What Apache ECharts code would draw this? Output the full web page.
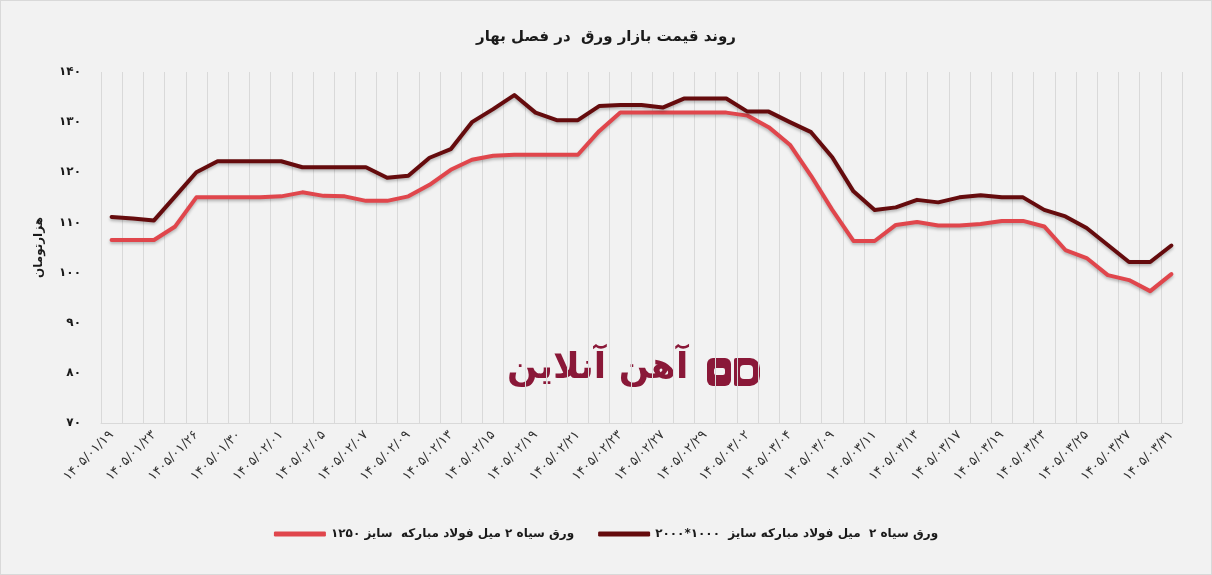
<!DOCTYPE html>
<html>
<head>
<meta charset="utf-8">
<title>روند قیمت بازار ورق</title>
<script src="https://cdn.jsdelivr.net/npm/echarts@6.0.0/dist/echarts.min.js"></script>
<style>
  html, body { margin: 0; padding: 0; background: #fff; }
  #steelChart {
    width: 1210px;
    height: 573px;
    border: 1px solid #d9d9d9;
    background: #f2f2f2;
  }
</style>
</head>
<body>
<div id="steelChart"></div>
<script>
// تاریخ ها (محور افقی)
var dates = [
  '1405/01/19', '1405/01/22', '1405/01/23', '1405/01/24', '1405/01/26', '1405/01/29',
  '1405/01/30', '1405/01/31', '1405/02/01', '1405/02/02', '1405/02/05', '1405/02/06',
  '1405/02/07', '1405/02/08', '1405/02/09', '1405/02/12', '1405/02/13', '1405/02/14',
  '1405/02/15', '1405/02/16', '1405/02/19', '1405/02/20', '1405/02/21', '1405/02/22',
  '1405/02/23', '1405/02/26', '1405/02/27', '1405/02/28', '1405/02/29', '1405/02/30',
  '1405/03/02', '1405/03/03', '1405/03/04', '1405/03/05', '1405/03/09', '1405/03/10',
  '1405/03/11', '1405/03/12', '1405/03/13', '1405/03/16', '1405/03/17', '1405/03/18',
  '1405/03/19', '1405/03/20', '1405/03/23', '1405/03/24', '1405/03/25', '1405/03/26',
  '1405/03/27', '1405/03/30', '1405/03/31'
]

// ورق سیاه ۲ میل سایز ۱۰۰۰*۲۰۰۰
var sheet2000 = [
  111.1, 110.8, 110.4, 115.2, 120.0, 122.2, 122.2, 122.2, 122.2, 121.0,
  121.0, 121.0, 121.0, 118.9, 119.3, 122.9, 124.6, 130.0, 132.6, 135.4,
  131.9, 130.4, 130.4, 133.2, 133.4, 133.4, 132.9, 134.7, 134.7, 134.7,
  132.1, 132.1, 130.0, 128.0, 123.0, 116.2, 112.5, 113.0, 114.5, 114.0,
  115.0, 115.4, 115.0, 115.0, 112.5, 111.2, 108.9, 105.5, 102.1, 102.1,
  105.4
]

// ورق سیاه ۲ میل سایز ۱۲۵۰
var sheet1250 = [
  106.5, 106.5, 106.5, 109.2, 115.0, 115.0, 115.0, 115.0, 115.2, 116.0,
  115.3, 115.2, 114.3, 114.3, 115.2, 117.5, 120.5, 122.5, 123.3, 123.5,
  123.5, 123.5, 123.5, 128.2, 131.9, 131.9, 131.9, 131.9, 131.9, 131.9,
  131.3, 129.0, 125.5, 119.3, 112.5, 106.3, 106.3, 109.5, 110.1, 109.4,
  109.4, 109.7, 110.3, 110.3, 109.2, 104.5, 102.9, 99.5, 98.5, 96.3,
  99.7
]

var seriesNames = [
  'ورق سیاه ۲ میل فولاد مبارکه  سایز ۱۲۵۰',
  'ورق سیاه ۲  میل فولاد مبارکه سایز  ۱۰۰۰*۲۰۰۰'
]

var yTicks = { min: 70, max: 140, step: 10 }

var fontFa = '"DejaVu Sans", "Noto Sans", sans-serif'

// تبدیل اعداد به فارسی
function toFa(str) {
  return String(str).replace(/\d/g, function (d) {
    return '۰۱۲۳۴۵۶۷۸۹'[d]
  })
}

// نمودار روند قیمت
function priceTrendChart() {
  var myChart = echarts.init(document.getElementById('steelChart'))
  var option = {
    backgroundColor: '#f2f2f2',
    animation: false,
    title: {
      text: 'روند قیمت بازار ورق  در فصل بهار',
      left: 'center',
      top: 24,
      textStyle: {
        fontFamily: fontFa,
        fontSize: 15,
        fontWeight: 'bold',
        color: '#1a1a1a'
      }
    },
    legend: {
      data: seriesNames,
      bottom: 29,
      left: 'center',
      itemGap: 24,
      itemWidth: 52,
      itemHeight: 5,
      icon: 'roundRect',
      textStyle: {
        fontFamily: fontFa,
        fontSize: 12,
        fontWeight: 'bold',
        color: '#1a1a1a'
      }
    },
    grid: {
      left: 100,
      top: 71,
      width: 1081,
      height: 351
    },
    xAxis: {
      type: 'category',
      data: dates,
      boundaryGap: true,
      axisTick: { show: false },
      axisLine: {
        show: true,
        lineStyle: { color: '#d9d9d9', width: 1 }
      },
      splitLine: {
        show: true,
        interval: 0,
        lineStyle: { color: '#d9d9d9', width: 1 }
      },
      axisLabel: {
        interval: 1,
        rotate: 45,
        margin: 10,
        fontFamily: fontFa,
        fontSize: 13,
        color: '#333333',
        formatter: function (v) {
          return toFa(v)
        }
      }
    },
    yAxis: {
      type: 'value',
      min: yTicks.min,
      max: yTicks.max,
      interval: yTicks.step,
      name: 'هزارتومان',
      nameLocation: 'middle',
      nameRotate: 90,
      nameGap: 56,
      nameTextStyle: {
        fontFamily: fontFa,
        fontSize: 12,
        fontWeight: 'bold',
        color: '#1a1a1a'
      },
      axisLine: { show: false },
      axisTick: { show: false },
      splitLine: { show: false },
      axisLabel: {
        margin: 20,
        fontFamily: fontFa,
        fontSize: 12,
        fontWeight: 'bold',
        color: '#1a1a1a',
        formatter: function (v) {
          return toFa(v)
        }
      }
    },
    series: [
      {
        name: seriesNames[0],
        type: 'line',
        data: sheet1250,
        color: '#e0464c',
        symbol: 'none',
        lineStyle: {
          width: 4,
          cap: 'round',
          join: 'round',
          shadowColor: 'rgba(0,0,0,0.25)',
          shadowBlur: 3,
          shadowOffsetY: 2
        }
      },
      {
        name: seriesNames[1],
        type: 'line',
        data: sheet2000,
        color: '#650b0d',
        symbol: 'none',
        lineStyle: {
          width: 4,
          cap: 'round',
          join: 'round',
          shadowColor: 'rgba(0,0,0,0.25)',
          shadowBlur: 3,
          shadowOffsetY: 2
        }
      }
    ],
    // لوگوی آهن آنلاین
    graphic: [
      {
        type: 'text',
        left: 506,
        top: 350,
        z: 0,
        style: {
          text: 'آهن آنلاین',
          font: 'bold 36px ' + fontFa,
          fill: '#8a1838'
        }
      },
      {
        type: 'rect',
        z: 0,
        shape: { x: 706, y: 357, width: 24, height: 28, r: 6 },
        style: { fill: '#8a1838' }
      },
      {
        type: 'rect',
        z: 0,
        shape: { x: 713, y: 367, width: 11, height: 7, r: 2 },
        style: { fill: '#f2f2f2' }
      },
      {
        type: 'rect',
        z: 0,
        shape: { x: 733, y: 357, width: 26, height: 28, r: [2, 10, 10, 2] },
        style: { fill: '#8a1838' }
      },
      {
        type: 'rect',
        z: 0,
        shape: { x: 739, y: 364, width: 13, height: 14, r: 4 },
        style: { fill: '#f2f2f2' }
      }
    ]
  }
  myChart.setOption(option)
  window.addEventListener('resize', function () {
    myChart.resize()
  })
}

priceTrendChart()
</script>
</body>
</html>
